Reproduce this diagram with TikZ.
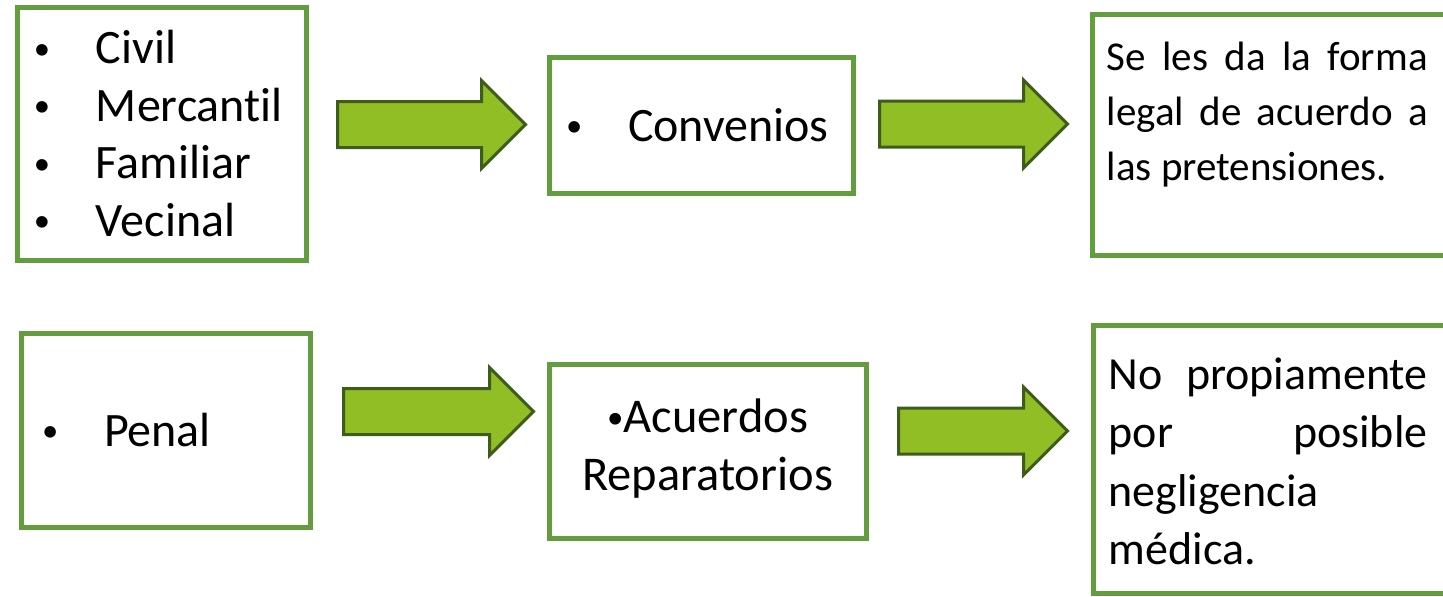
\documentclass[tikz,border=0pt]{standalone}
\usepackage{graphicx}
\usepackage{fontspec}
\setmainfont{Carlito}[Ligatures=NoCommon]
\usetikzlibrary{shapes.arrows}

\definecolor{boxgreen}{RGB}{98,158,62}
\definecolor{arrowfill}{RGB}{144,190,36}
\definecolor{arrowline}{RGB}{62,92,28}

\newcommand{\blt}{\raisebox{4.5pt}{\scalebox{0.68}{\textbullet}}}
\newcommand{\itm}[1]{\makebox[62pt][l]{\blt}#1}

\begin{document}
\begin{tikzpicture}[x=1pt,y=-1pt,
    box/.style={draw=boxgreen,line width=5pt,fill=white,inner sep=0pt},
    big/.style={font={\fontsize{48}{57.5}\selectfont}},
    blockarrow/.style={single arrow,draw=arrowline,fill=arrowfill,line width=3pt,
      inner sep=21.5pt,single arrow head extend=21pt,anchor=tail}]
  \useasboundingbox (0,0) rectangle (1443,597);
  \clip (0,0) rectangle (1443,597);

  \node[box,big,minimum width=289pt,minimum height=253pt,text width=255pt,align=left] (civ) at (161.5,133.5)
    {\itm{Civil}\\\itm{Mercantil}\\\itm{Familiar}\\\itm{Vecinal}};
  \node[box,big,minimum width=304pt,minimum height=136pt,text width=270pt,align=left] (conv) at (701,125)
    {\itm{Convenios}};
  \node[box,minimum width=355pt,minimum height=241pt] (forma) at (1269.5,134.5) {};
  \node[anchor=base west,inner sep=0pt,text width=321pt,align=justify,
    font={\fontsize{41}{55}\selectfont}] (formatxt) at ([shift={(17,59)}]forma.north west)
    {Se les da la forma\linebreak legal de acuerdo a\linebreak las pretensiones.};

  \node[box,big,minimum width=289pt,minimum height=194pt,text width=247pt,align=left] (pen) at (165.5,430)
    {\itm{Penal}};
  \node[box,minimum width=317pt,minimum height=174pt,align=center,
    font={\fontsize{48.5}{58}\selectfont}] (acu) at (707.5,451)
    {\blt Acuerdos\\Reparatorios\rule[-12pt]{0pt}{0pt}};
  \node[box,minimum width=355pt,minimum height=268pt] (neg) at (1270.5,459) {};
  \node[anchor=base west,inner sep=0pt,text width=319pt,align=justify,
    font={\fontsize{46}{58.3}\selectfont}] (negtxt) at ([shift={(18,67)}]neg.north west)
    {No propiamente\linebreak por posible\linebreak negligencia\linebreak médica.};

  \node[blockarrow,minimum height=188pt] (a1) at (336,124.5) {};
  \node[blockarrow,minimum height=188pt] (a2) at (878,124) {};
  \node[blockarrow,minimum height=190pt] (a3) at (342,411.5) {};
  \node[blockarrow,minimum height=169pt] (a4) at (897,431) {};
\end{tikzpicture}
\end{document}
